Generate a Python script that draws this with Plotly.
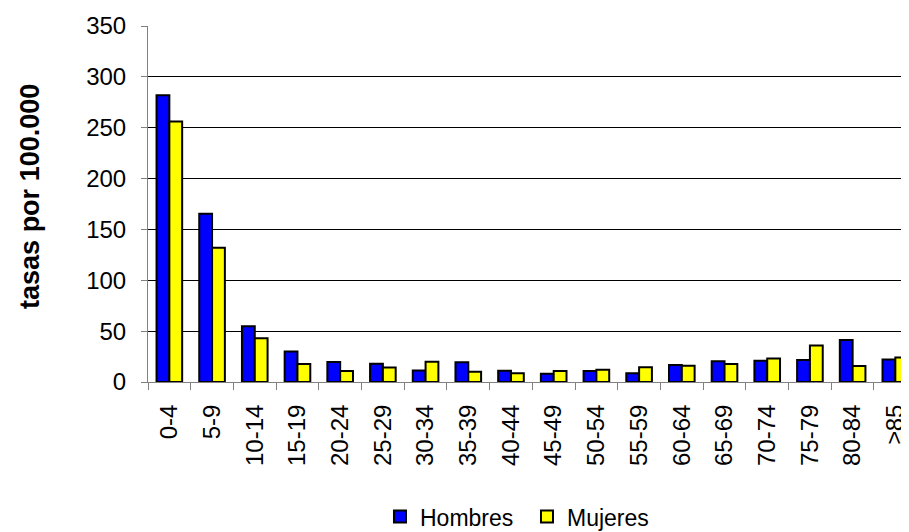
import plotly.graph_objects as go

categorias = ["0-4", "5-9", "10-14", "15-19", "20-24", "25-29", "30-34", "35-39",
              "40-44", "45-49", "50-54", "55-59", "60-64", "65-69", "70-74",
              "75-79", "80-84", "≥85"]
hombres = [282, 165.5, 54.7, 30, 19.7, 18, 11.4, 19.3, 11, 8.2, 10.8, 8.5,
           16.7, 20.3, 21, 21.6, 41.3, 22]
mujeres = [256, 132, 43, 17.7, 10.8, 14.2, 20, 10, 8.5, 10.8, 12, 14.4,
           16, 17.7, 23.2, 36, 15.7, 24]
y_ticks = [0, 50, 100, 150, 200, 250, 300, 350]

FONT = "Liberation Sans, Arial, sans-serif"

fig = go.Figure()
fig.add_trace(go.Bar(x=categorias, y=hombres, name="Hombres",
                     marker=dict(color="#0000FF", line=dict(color="black", width=2))))
fig.add_trace(go.Bar(x=categorias, y=mujeres, name="Mujeres",
                     marker=dict(color="#FFFF00", line=dict(color="black", width=2))))

fig.update_layout(
    width=901, height=524,
    margin=dict(l=140, r=0, t=18, b=150, autoexpand=False),
    paper_bgcolor="white", plot_bgcolor="white",
    barmode="group", bargap=0.4, bargroupgap=0,
    font=dict(family=FONT, size=24, color="black"),
    legend=dict(orientation="h", xref="paper", x=0.498, xanchor="center",
                yref="paper", y=-0.378, yanchor="middle",
                font=dict(size=23), itemwidth=30, traceorder="normal",
                entrywidth=102),
    xaxis=dict(
        type="category", range=[-0.5, 17.32],
        tickangle=-90, tickson="boundaries", ticks="outside", ticklen=7,
        tickcolor="#808080", showline=True, linecolor="#808080", linewidth=1,
        showgrid=False, ticklabelstandoff=12, tickfont=dict(size=24),
    ),
    yaxis=dict(
        range=[0, 350], tickvals=y_ticks, ticks="outside", ticklen=6,
        tickcolor="#808080", showline=True, linecolor="#808080", linewidth=1,
        showgrid=True, gridcolor="black", gridwidth=1, zeroline=False,
        ticklabelstandoff=10, tickfont=dict(size=24),
    ),
    annotations=[dict(text="<b>tasas por 100.000</b>", textangle=-90,
                      xref="paper", yref="paper", x=-0.155, y=0.52,
                      xanchor="center", yanchor="middle", showarrow=False,
                      font=dict(size=27))],
)

fig.write_html("out.html")
